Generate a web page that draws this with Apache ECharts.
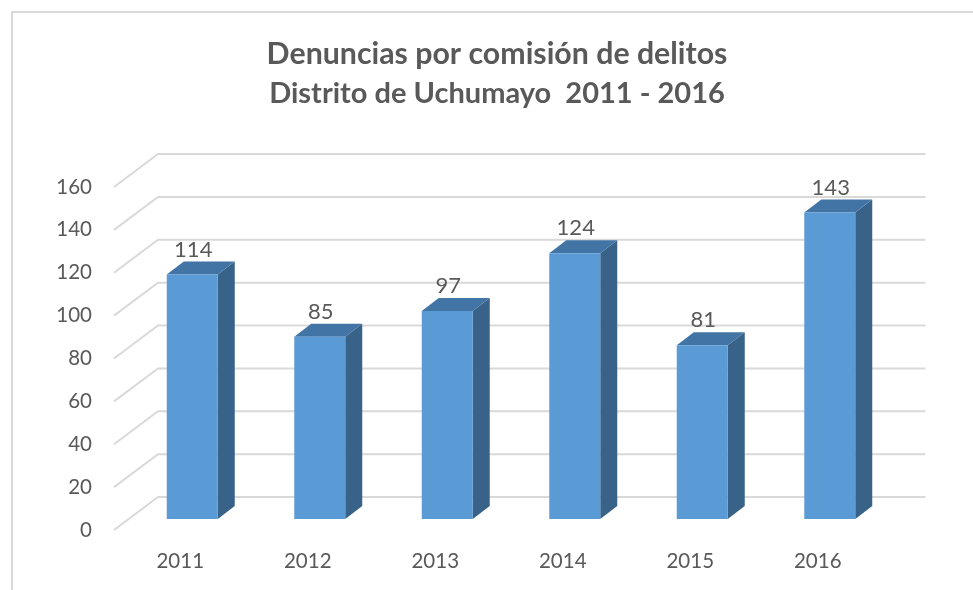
<!DOCTYPE html>
<html>
<head>
<meta charset="utf-8">
<style>
  html, body { margin: 0; padding: 0; background: #fff; }
  #charts { width: 973px; height: 590px; }
</style>
</head>
<body>
<div id="charts"></div>
<script src="https://cdn.jsdelivr.net/npm/echarts@6/dist/echarts.min.js"></script>
<script>
  var years = ['2011', '2012', '2013', '2014', '2015', '2016'];
  var denuncias = [114, 85, 97, 124, 81, 143];
  var ticks = [0, 20, 40, 60, 80, 100, 120, 140, 160];

  // fake 3D: how far the back wall and the bars sit from the front plane
  var wallDx = 44, wallDy = -33, wallInset = 2.5;
  var barDx = 12, barDy = -11;
  var barW = 51, sideDx = 17, sideDy = -13;

  function renderWall(params, api) {
    var p = api.coord([0, api.value(0)]);
    var g = params.coordSys;
    var startX = g.x - wallInset;
    var backY = p[1] + wallDy;
    return {
      type: 'polyline',
      shape: { points: [[startX, p[1]], [startX + wallDx, backY], [startX + g.width + wallInset + wallDx, backY]] },
      style: { fill: 'none', stroke: '#d9d9d9', lineWidth: 2 }
    };
  }

  function renderBar(params, api) {
    var top = api.coord([api.value(0), api.value(1)]);
    var base = api.coord([api.value(0), 0]);
    var l = top[0] + barDx - barW / 2, r = l + barW;
    var t = top[1] + barDy, b = base[1] + barDy;
    return {
      type: 'group',
      children: [
        { type: 'polygon', shape: { points: [[r, t], [r + sideDx, t + sideDy], [r + sideDx, b + sideDy], [r, b]] }, style: { fill: '#386287' } },
        { type: 'polygon', shape: { points: [[l, t], [l + sideDx, t + sideDy], [r + sideDx, t + sideDy], [r, t]] }, style: { fill: '#4275a6' } },
        { type: 'rect', shape: { x: l, y: t, width: barW, height: b - t }, style: { fill: '#5b9bd5' } },
        { type: 'text', style: { text: String(api.value(1)), x: l + barW / 2 + 1, y: t - 25, align: 'center', verticalAlign: 'middle', fill: '#595959', font: '22px Lato' } }
      ]
    };
  }

  var myChart = echarts.init(document.getElementById('charts'));
  myChart.setOption({
    animation: false,
    backgroundColor: '#fff',
    title: {
      text: '{a|Denuncias por comisión de delitos}\n{b|Distrito de Uchumayo  2011 - 2016}',
      left: 492,
      top: 30,
      textAlign: 'center',
      textStyle: {
        rich: {
          a: { fontFamily: 'Lato', fontSize: 30.3, fontWeight: 'bold', color: '#595959', lineHeight: 39 },
          b: { fontFamily: 'Lato', fontSize: 29, fontWeight: 'bold', color: '#595959', lineHeight: 39 }
        }
      }
    },
    grid: { left: 116.5, right: 91.5, top: 187, bottom: 60 },
    xAxis: {
      type: 'category',
      data: years,
      axisLine: { show: false },
      axisTick: { show: false },
      axisLabel: { margin: 21, fontFamily: 'Lato', fontSize: 20.5, color: '#595959' }
    },
    yAxis: {
      type: 'value',
      min: 0,
      max: 160,
      interval: 20,
      splitLine: { show: false },
      axisLine: { show: false },
      axisTick: { show: false },
      axisLabel: { margin: 24.5, padding: [6, 0, 0, 0], fontFamily: 'Lato', fontSize: 20.5, color: '#595959' }
    },
    graphic: [
      { type: 'polyline', silent: true, shape: { points: [[12, 590], [12, 12], [973, 12]] }, style: { fill: 'none', stroke: '#d9d9d9', lineWidth: 2 } }
    ],
    series: [
      { type: 'custom', data: ticks.map(function (t) { return [t]; }), encode: { y: 0 }, renderItem: renderWall, clip: false, silent: true, z: 1 },
      { type: 'custom', data: years.map(function (y, i) { return [i, denuncias[i]]; }), encode: { x: 0, y: 1 }, renderItem: renderBar, clip: false, z: 2 }
    ]
  });
</script>
</body>
</html>
